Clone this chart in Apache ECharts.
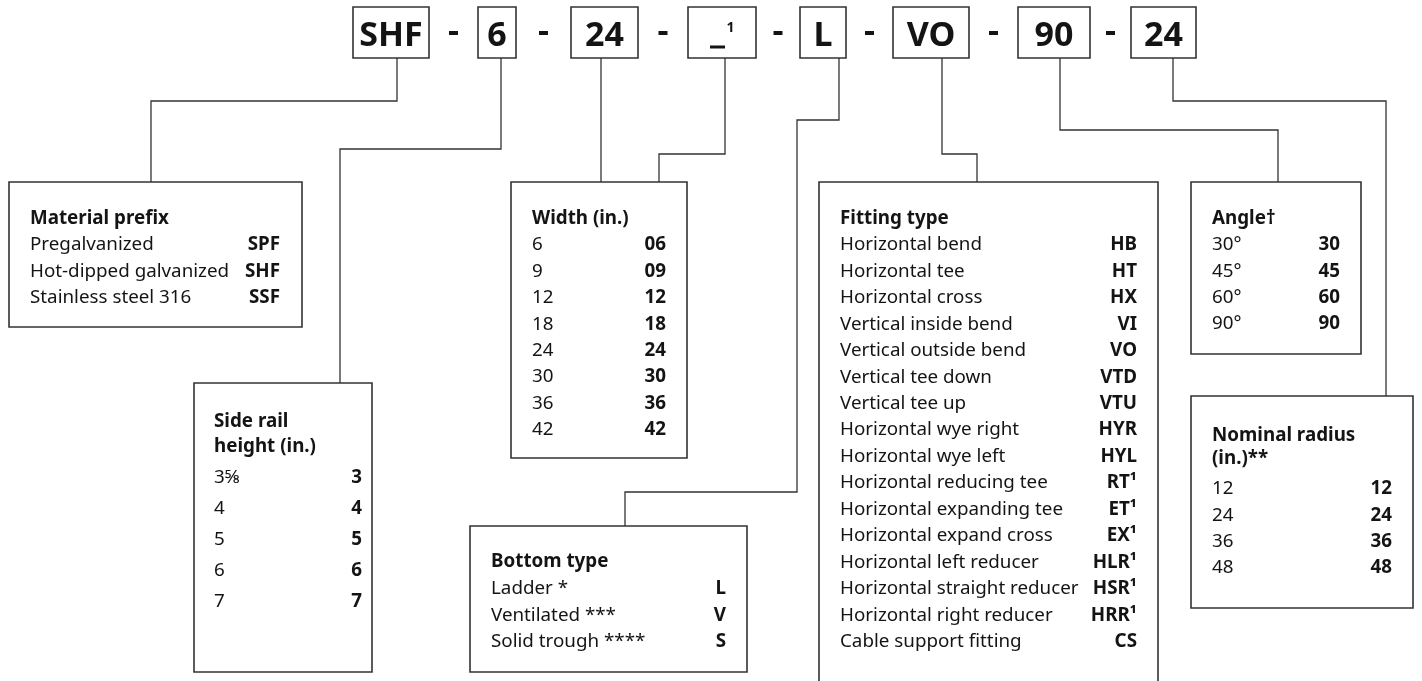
<!DOCTYPE html>
<html><head><meta charset="utf-8">
<script src="https://cdn.jsdelivr.net/npm/echarts@6/dist/echarts.min.js"></script>
<style>html,body{margin:0;padding:0;background:#fff}#c{width:1422px;height:681px}</style>
</head><body><div id="c"></div>
<script>
// ---------- content ----------
const codeSegments = ['SHF', '6', '24', '_\u00B9', 'L', 'VO', '90', '24'];

const materialTitle = ['Material prefix'];
const materialLabels = ['Pregalvanized', 'Hot-dipped galvanized', 'Stainless steel 316'];
const materialCodes = ['SPF', 'SHF', 'SSF'];

const railTitle = ['Side rail', 'height (in.)'];
const railLabels = ['3\u215D', '4', '5', '6', '7'];
const railCodes = ['3', '4', '5', '6', '7'];

const widthTitle = ['Width (in.)'];
const widthLabels = ['6', '9', '12', '18', '24', '30', '36', '42'];
const widthCodes = ['06', '09', '12', '18', '24', '30', '36', '42'];

const bottomTitle = ['Bottom type'];
const bottomLabels = ['Ladder *', 'Ventilated ***', 'Solid trough ****'];
const bottomCodes = ['L', 'V', 'S'];

const fittingTitle = ['Fitting type'];
const fittingLabels = ['Horizontal bend', 'Horizontal tee', 'Horizontal cross', 'Vertical inside bend',
  'Vertical outside bend', 'Vertical tee down', 'Vertical tee up', 'Horizontal wye right',
  'Horizontal wye left', 'Horizontal reducing tee', 'Horizontal expanding tee', 'Horizontal expand cross',
  'Horizontal left reducer', 'Horizontal straight reducer', 'Horizontal right reducer', 'Cable support fitting'];
const fittingCodes = ['HB', 'HT', 'HX', 'VI', 'VO', 'VTD', 'VTU', 'HYR', 'HYL',
  'RT\u00B9', 'ET\u00B9', 'EX\u00B9', 'HLR\u00B9', 'HSR\u00B9', 'HRR\u00B9', 'CS'];

const angleTitle = ['Angle\u2020'];
const angleLabels = ['30\u00B0', '45\u00B0', '60\u00B0', '90\u00B0'];
const angleCodes = ['30', '45', '60', '90'];

const radiusTitle = ['Nominal radius', '(in.)**'];
const radiusLabels = ['12', '24', '36', '48'];
const radiusCodes = ['12', '24', '36', '48'];

// ---------- layout (diagram units = pixels of the 1422x681 reference) ----------
const W = 1422, H = 681;
const FONT = '"Noto Sans", "DejaVu Sans", sans-serif';
const INK = '#141414', LINE = '#333333';
const BODY = 18.8, DY = 1.8;

const topBoxLayout = { y0: 7, y1: 58, xs: [[353, 429], [478, 516], [571, 638], [688, 756], [800, 846], [893, 969], [1018, 1090], [1131, 1196]] };

const panels = [
  { title: materialTitle, labels: materialLabels, codes: materialCodes, box: { x0: 9, y0: 182, x1: 302, y1: 327 }, left: 30, right: 280, titleY: [217], rowY: 243, step: 26.5 },
  { title: railTitle, labels: railLabels, codes: railCodes, box: { x0: 194, y0: 383, x1: 372, y1: 672 }, left: 214, right: 362, titleY: [420, 445], rowY: 476, step: 31 },
  { title: widthTitle, labels: widthLabels, codes: widthCodes, box: { x0: 511, y0: 182, x1: 687, y1: 458 }, left: 532, right: 666, titleY: [217], rowY: 243, step: 26.45 },
  { title: bottomTitle, labels: bottomLabels, codes: bottomCodes, box: { x0: 470, y0: 526, x1: 747, y1: 672 }, left: 491, right: 726, titleY: [560], rowY: 587, step: 26.5 },
  { title: fittingTitle, labels: fittingLabels, codes: fittingCodes, box: { x0: 819, y0: 182, x1: 1158, y1: 700, open: true }, left: 840, right: 1137, titleY: [217], rowY: 243, step: 26.47 },
  { title: angleTitle, labels: angleLabels, codes: angleCodes, box: { x0: 1191, y0: 182, x1: 1361, y1: 354 }, left: 1212, right: 1340, titleY: [217], rowY: 243, step: 26.4 },
  { title: radiusTitle, labels: radiusLabels, codes: radiusCodes, box: { x0: 1191, y0: 396, x1: 1413, y1: 608 }, left: 1212, right: 1392, titleY: [434, 457], rowY: 487, step: 26.4 }
];

const connectors = [
  [[397, 58], [397, 101], [151, 101], [151, 182]],
  [[501, 58], [501, 149], [340, 149], [340, 383]],
  [[601, 58], [601, 182]],
  [[725, 58], [725, 154], [659, 154], [659, 182]],
  [[839, 58], [839, 120], [797, 120], [797, 492], [625, 492], [625, 526]],
  [[942, 58], [942, 154], [977, 154], [977, 182]],
  [[1060, 58], [1060, 130], [1278, 130], [1278, 182]],
  [[1173, 58], [1173, 101], [1386, 101], [1386, 396]]
];

// ---------- chart ----------
const chart = echarts.init(document.getElementById('c'), null, { renderer: 'canvas' });

function txt(api, x, y, text, opt) {
  const p = api.coord([x, y]);
  return {
    type: 'text', x: p[0], y: p[1], silent: true,
    style: Object.assign({ text: text, fill: INK, fontFamily: FONT, fontSize: BODY, fontWeight: 'normal', align: 'left', verticalAlign: 'middle' }, opt || {})
  };
}

const option = {
  animation: false,
  backgroundColor: '#ffffff',
  grid: { left: 0, right: 0, top: 0, bottom: 0 },
  xAxis: { type: 'value', min: 0, max: W, show: false },
  yAxis: { type: 'value', min: 0, max: H, inverse: true, show: false },
  series: [
    {
      type: 'lines', coordinateSystem: 'cartesian2d', polyline: true, silent: true,
      lineStyle: { color: LINE, width: 1.3, opacity: 1 },
      data: connectors.map(c => ({ coords: c }))
    },
    {
      // top code boxes
      type: 'custom', coordinateSystem: 'cartesian2d', silent: true,
      data: codeSegments.map((s, i) => [i, 0]),
      renderItem: function (params, api) {
        const i = params.dataIndex;
        const xs = topBoxLayout.xs[i];
        const a = api.coord([xs[0], topBoxLayout.y0]);
        const b = api.coord([xs[1], topBoxLayout.y1]);
        const children = [{
          type: 'rect', shape: { x: a[0], y: a[1], width: b[0] - a[0], height: b[1] - a[1] },
          style: { fill: '#fff', stroke: LINE, lineWidth: 1.6 }
        }];
        const seg = codeSegments[i];
        const cx = (xs[0] + xs[1]) / 2;
        if (seg.indexOf('\u00B9') >= 0) {
          const base = seg.replace('\u00B9', '');
          children.push({ type: 'rect', shape: (function () { const q = api.coord([cx - 12, 45.5]); const r = api.coord([cx + 3, 48.5]); return { x: q[0], y: q[1], width: r[0] - q[0], height: r[1] - q[1] }; })(),
            style: { fill: INK } });
          children.push(txt(api, cx + 8.5, 28.5, '1', { fontSize: 14, fontWeight: 'bold', align: 'center' }));
        } else {
          children.push(txt(api, cx, 36, seg, { fontSize: 34, fontWeight: 'bold', align: 'center' }));
        }
        if (i < codeSegments.length - 1) {
          const nx = topBoxLayout.xs[i + 1][0];
          const m = (xs[1] + nx) / 2;
          const q = api.coord([m - 4.5, 31]);
          const r = api.coord([m + 4.5, 35]);
          children.push({ type: 'rect', shape: { x: q[0], y: q[1], width: r[0] - q[0], height: r[1] - q[1] }, style: { fill: INK } });
        }
        return { type: 'group', children: children };
      }
    },
    {
      // option panels
      type: 'custom', coordinateSystem: 'cartesian2d', silent: true,
      data: panels.map((p, i) => [i, 0]),
      renderItem: function (params, api) {
        const p = panels[params.dataIndex];
        const bx = p.box;
        const a = api.coord([bx.x0, bx.y0]);
        const b = api.coord([bx.x1, bx.y1]);
        const children = [];
        if (bx.open) {
          children.push({ type: 'polyline', shape: { points: [[a[0], b[1]], [a[0], a[1]], [b[0], a[1]], [b[0], b[1]]] },
            style: { fill: 'none', stroke: LINE, lineWidth: 1.6 } });
        } else {
          children.push({ type: 'rect', shape: { x: a[0], y: a[1], width: b[0] - a[0], height: b[1] - a[1] },
            style: { fill: '#fff', stroke: LINE, lineWidth: 1.6 } });
        }
        p.title.forEach((t, k) => children.push(txt(api, p.left, p.titleY[k] + DY, t, { fontWeight: 'bold' })));
        p.labels.forEach((t, k) => children.push(txt(api, p.left, p.rowY + k * p.step + DY, t)));
        p.codes.forEach((t, k) => children.push(txt(api, p.right, p.rowY + k * p.step + DY, t, { fontWeight: 'bold', align: 'right' })));
        return { type: 'group', children: children };
      }
    }
  ]
};
chart.setOption(option);
</script>
</body></html>
